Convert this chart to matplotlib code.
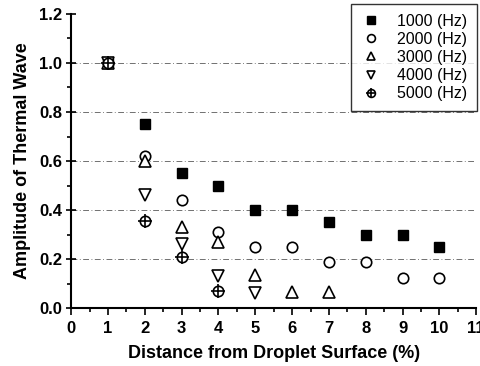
import matplotlib.pyplot as plt
import numpy as np

plt.rcParams['font.family'] = ['Liberation Sans', 'DejaVu Sans']

# Distance from droplet surface (%) and thermal wave amplitude per frequency
x1000 = [1, 2, 3, 4, 5, 6, 7, 8, 9, 10]
y1000 = [1.0, 0.75, 0.55, 0.50, 0.40, 0.40, 0.35, 0.30, 0.30, 0.25]
x2000 = [1, 2, 3, 4, 5, 6, 7, 8, 9, 10]
y2000 = [1.0, 0.62, 0.44, 0.31, 0.25, 0.25, 0.19, 0.19, 0.125, 0.125]
x3000 = [1, 2, 3, 4, 5, 6, 7]
y3000 = [1.0, 0.60, 0.33, 0.27, 0.135, 0.067, 0.067]
x4000 = [1, 2, 3, 4, 5]
y4000 = [1.0, 0.46, 0.26, 0.13, 0.06]
x5000 = [1, 2, 3, 4]
y5000 = [1.0, 0.355, 0.21, 0.07]

fig = plt.figure(figsize=(4.81, 3.66), dpi=100)
ax = fig.add_axes([0.148, 0.158, 0.842, 0.804])

# dash-dot guide lines at the major y ticks
for yv in [0.2, 0.4, 0.6, 0.8, 1.0]:
    ax.axhline(yv, color='0.35', lw=0.6, ls=(0, (7, 3, 1, 3)), zorder=0)

ms = 7.5
h1, = ax.plot(x1000, y1000, 's', color='black', ms=ms, ls='none')
h2, = ax.plot(x2000, y2000, 'o', mfc='white', mec='black', mew=1.2, ms=ms, ls='none')
h3, = ax.plot(x3000, y3000, '^', mfc='white', mec='black', mew=1.2, ms=ms + 1, ls='none')
h4, = ax.plot(x4000, y4000, 'v', mfc='white', mec='black', mew=1.2, ms=ms + 1, ls='none')
h5a, = ax.plot(x5000, y5000, 'o', mfc='white', mec='black', mew=1.2, ms=ms, ls='none')
h5b, = ax.plot(x5000, y5000, '+', color='black', mew=1.2, ms=ms + 2, ls='none')

ax.set_xlim(0, 11)
ax.set_ylim(0, 1.2)
ax.set_xticks(np.arange(0, 12, 1))
ax.set_xticks(np.arange(0.5, 11, 1), minor=True)
ax.set_yticks(np.arange(0, 1.21, 0.2))
ax.set_yticks(np.arange(0.1, 1.2, 0.2), minor=True)
ax.set_yticklabels(['0.0', '0.2', '0.4', '0.6', '0.8', '1.0', '1.2'])

for s in ['top', 'right']:
    ax.spines[s].set_visible(False)
for s in ['left', 'bottom']:
    ax.spines[s].set_linewidth(1.5)

ax.tick_params(axis='y', which='major', direction='inout', length=7, width=1.2, labelsize=12, pad=3)
ax.tick_params(axis='y', which='minor', direction='out', length=3, width=1.2)
ax.tick_params(axis='x', which='major', direction='out', length=5, width=1.2, labelsize=12, pad=4)
ax.tick_params(axis='x', which='minor', direction='out', length=3, width=1.2)
for lab in ax.get_xticklabels() + ax.get_yticklabels():
    lab.set_fontweight('bold')

ax.set_xlabel('Distance from Droplet Surface (%)', fontsize=13, fontweight='bold', labelpad=7)
ax.set_ylabel('Amplitude of Thermal Wave', fontsize=13, fontweight='bold', labelpad=6)

leg = fig.legend([h1, h2, h3, h4, (h5a, h5b)],
                 ['1000 (Hz)', '2000 (Hz)', '3000 (Hz)', '4000 (Hz)', '5000 (Hz)'],
                 loc='upper left', bbox_to_anchor=(0.729, 0.989), borderaxespad=0,
                 fontsize=11.5, frameon=True, fancybox=False, edgecolor='black',
                 handletextpad=0.9, handlelength=1.4, labelspacing=0.2,
                 borderpad=0.6, markerscale=0.75)
leg.get_frame().set_linewidth(1.0)

fig.savefig('out.png', dpi=100)
